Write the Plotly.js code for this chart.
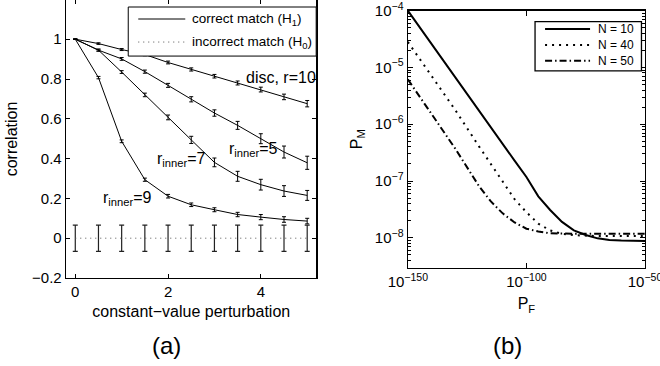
<!DOCTYPE html>
<html><head><meta charset="utf-8">
<script src="https://cdn.plot.ly/plotly-3.0.1.min.js"></script>
<style>html,body{margin:0;padding:0;background:#fff}#chart{width:660px;height:366px}</style>
</head><body><div id="chart"></div>
<script>
// ---- panel (a) data ----
const perturbation = [0, 0.5, 1, 1.5, 2, 2.5, 3, 3.5, 4, 4.5, 5];
const corrDisc   = [1, 0.978, 0.948, 0.923, 0.883, 0.848, 0.814, 0.780, 0.747, 0.710, 0.676];
const errDisc    = [0, 0.004, 0.005, 0.006, 0.007, 0.008, 0.009, 0.010, 0.012, 0.014, 0.016];
const corrInner5 = [1, 0.945, 0.901, 0.837, 0.768, 0.698, 0.629, 0.567, 0.500, 0.433, 0.379];
const errInner5  = [0, 0.005, 0.007, 0.008, 0.010, 0.013, 0.016, 0.020, 0.025, 0.030, 0.033];
const corrInner7 = [1, 0.945, 0.835, 0.720, 0.607, 0.494, 0.381, 0.311, 0.269, 0.237, 0.215];
const errInner7  = [0, 0.005, 0.007, 0.009, 0.012, 0.018, 0.022, 0.025, 0.027, 0.027, 0.025];
const corrInner9 = [1, 0.807, 0.487, 0.294, 0.211, 0.168, 0.143, 0.119, 0.106, 0.094, 0.086];
const errInner9  = [0, 0.006, 0.007, 0.008, 0.009, 0.009, 0.010, 0.011, 0.013, 0.014, 0.014];
const corrH0     = [0, 0, 0, 0, 0, 0, 0, 0, 0, 0, 0];
const errH0      = [0.066, 0.066, 0.066, 0.066, 0.066, 0.066, 0.066, 0.066, 0.066, 0.066, 0.066];
const yTicksA    = [-0.2, 0, 0.2, 0.4, 0.6, 0.8, 1];
const xTicksA    = [0, 2, 4];
const legendA    = ['correct match (H<sub>1</sub>)', 'incorrect match (H<sub>0</sub>)'];

// ---- panel (b) data (base-10 exponents) ----
const pfExp  = [-150, -140, -130, -120, -115, -110, -105, -100, -95, -90, -85, -80, -75, -70, -65, -60, -50];
const pmN10  = [-4.00, -4.59, -5.18, -5.77, -6.07, -6.36, -6.64, -6.93, -7.27, -7.51, -7.72, -7.87, -7.95, -8.01, -8.04, -8.05, -8.056];
const pmN40  = [-4.55, -5.15, -5.75, -6.39, -6.70, -7.03, -7.32, -7.55, -7.75, -7.87, -7.93, -7.955, -7.965, -7.97, -7.97, -7.97, -7.97];
const pmN50  = [-5.21, -5.82, -6.43, -7.09, -7.36, -7.57, -7.73, -7.84, -7.89, -7.92, -7.93, -7.93, -7.93, -7.93, -7.93, -7.93, -7.93];
const legendB   = ['N = 10', 'N = 40', 'N = 50'];
const xTickExpB = [-150, -100, -50];
const yTickExpB = [-8, -7, -6, -5, -4];

const p10 = e => Math.pow(10, e);
const FONT = '"Liberation Sans", Arial, Helvetica, sans-serif';
const DASH_B = ['solid', '2px,5px', '7px,3px,1.5px,3px'];

function curve(y, err, name) {
  return {
    x: perturbation, y: y, type: 'scatter', mode: 'lines', name: name, showlegend: false,
    line: {color: '#000', width: 1},
    error_y: {type: 'data', array: err, visible: true, color: '#000', thickness: 1, width: 2},
    xaxis: 'x', yaxis: 'y'
  };
}

const traces = [
  curve(corrDisc, errDisc, 'disc, r=10'),
  curve(corrInner5, errInner5, 'r_inner=5'),
  curve(corrInner7, errInner7, 'r_inner=7'),
  curve(corrInner9, errInner9, 'r_inner=9'),
  {
    x: perturbation, y: corrH0, type: 'scatter', mode: 'lines', name: 'incorrect match (H0)', showlegend: false,
    line: {color: '#555', width: 1, dash: '1px,4px'},
    error_y: {type: 'data', array: errH0, visible: true, color: '#222', thickness: 1.2, width: 2.5},
    xaxis: 'x', yaxis: 'y'
  }
];
[pmN10, pmN40, pmN50].forEach((pm, i) => traces.push({
  x: pfExp.map(p10), y: pm.map(p10), type: 'scatter', mode: 'lines', name: legendB[i], showlegend: false,
  line: {color: '#000', width: 2, dash: DASH_B[i]}, xaxis: 'x2', yaxis: 'y2'
}));

const minorB = [];
for (let k = -9; k <= -5; k++) for (let m = 2; m <= 9; m++) minorB.push(m * Math.pow(10, k));

const axisCommon = {
  showline: true, linecolor: '#000', linewidth: 1.3, mirror: 'ticks',
  ticks: 'inside', ticklen: 4, tickcolor: '#000', tickwidth: 1,
  showgrid: false, zeroline: false, tickfont: {size: 15, color: '#000'}
};

// legend boxes (paper coordinates of the plotting area)
const shapes = [
  {type: 'rect', xref: 'paper', yref: 'paper', x0: 0.1075, x1: 0.4321, y0: 0.7983, y1: 0.9748,
   fillcolor: '#fff', line: {color: '#000', width: 1}, layer: 'above'},
  {type: 'line', xref: 'paper', yref: 'paper', x0: 0.1248, x1: 0.2060, y0: 0.9316, y1: 0.9316,
   line: {color: '#000', width: 1}},
  {type: 'line', xref: 'paper', yref: 'paper', x0: 0.1248, x1: 0.2060, y0: 0.8488, y1: 0.8488,
   line: {color: '#555', width: 1, dash: '1px,4px'}},
  {type: 'rect', xref: 'paper', yref: 'paper', x0: 0.8101, x1: 0.9939, y0: 0.7453, y1: 0.9219,
   fillcolor: '#fff', line: {color: '#000', width: 1.3}, layer: 'above'}
];
const rowsB = [0.8956, 0.8380, 0.7819];
rowsB.forEach((yy, i) => shapes.push({
  type: 'line', xref: 'paper', yref: 'paper', x0: 0.8274, x1: 0.9051, y0: yy, y1: yy,
  line: {color: '#000', width: 2, dash: DASH_B[i]}
}));

const annotations = [
  {xref: 'paper', yref: 'paper', x: 0.2145, y: 0.9316, xanchor: 'left', yanchor: 'middle', text: legendA[0], showarrow: false, font: {size: 13.5}},
  {xref: 'paper', yref: 'paper', x: 0.2145, y: 0.8488, xanchor: 'left', yanchor: 'middle', text: legendA[1], showarrow: false, font: {size: 13.5}},
  {xref: 'x', yref: 'y', x: 4.44, y: 0.809, text: 'disc, r=10', showarrow: false, font: {size: 16}},
  {xref: 'x', yref: 'y', x: 3.84, y: 0.445, text: 'r<sub>inner</sub>=5', showarrow: false, font: {size: 16}},
  {xref: 'x', yref: 'y', x: 2.28, y: 0.395, text: 'r<sub>inner</sub>=7', showarrow: false, font: {size: 16}},
  {xref: 'x', yref: 'y', x: 1.13, y: 0.20, text: 'r<sub>inner</sub>=9', showarrow: false, font: {size: 16}},
  {xref: 'paper', yref: 'paper', x: 0.1743, y: -0.2423, xanchor: 'center', yanchor: 'middle', text: '(a)', showarrow: false, font: {size: 24}},
  {xref: 'paper', yref: 'paper', x: 0.7618, y: -0.2423, xanchor: 'center', yanchor: 'middle', text: '(b)', showarrow: false, font: {size: 24}}
];
rowsB.forEach((yy, i) => annotations.push({
  xref: 'paper', yref: 'paper', x: 0.9161, y: yy, xanchor: 'left', yanchor: 'middle',
  text: legendB[i], showarrow: false, font: {size: 12}
}));

const layout = {
  width: 660, height: 366,
  margin: {l: 65.7, r: 15, t: 0, b: 88.3},
  paper_bgcolor: '#fff', plot_bgcolor: '#fff',
  font: {family: FONT, color: '#000', size: 15},
  showlegend: false,
  xaxis: Object.assign({}, axisCommon, {
    domain: [0, 0.4326], range: [-0.2, 5.2], tickvals: xTicksA, anchor: 'y',
    title: {text: 'constant−value perturbation', font: {size: 16}, standoff: 6}
  }),
  yaxis: Object.assign({}, axisCommon, {
    domain: [0, 1], range: [-0.2, 1.197], tickvals: yTicksA, anchor: 'x',
    title: {text: 'correlation', font: {size: 16}, standoff: 10}
  }),
  xaxis2: Object.assign({}, axisCommon, {
    type: 'log', domain: [0.5904, 1], range: [-150, -50], anchor: 'y2',
    tickvals: xTickExpB.map(p10), ticktext: xTickExpB.map(e => '10<sup>−' + Math.abs(e) + '</sup>'),
    ticklen: 5, ticklabeloverflow: 'allow',
    title: {text: 'P<sub>F</sub>', font: {size: 16}, standoff: 9}
  }),
  yaxis2: Object.assign({}, axisCommon, {
    type: 'log', domain: [0.0375, 0.9615], range: [-8.525, -4], anchor: 'x2',
    tickvals: yTickExpB.map(p10), ticktext: yTickExpB.map(e => '10<sup>−' + Math.abs(e) + '</sup>'),
    ticklen: 5, ticklabeloverflow: 'allow',
    minor: {tickvals: minorB, ticks: 'inside', ticklen: 3, tickcolor: '#000', showgrid: false},
    title: {text: 'P<sub>M</sub>', font: {size: 16}, standoff: 8}
  }),
  shapes: shapes,
  annotations: annotations
};

Plotly.newPlot('chart', traces, layout, {staticPlot: true, displayModeBar: false});
</script>
</body></html>
